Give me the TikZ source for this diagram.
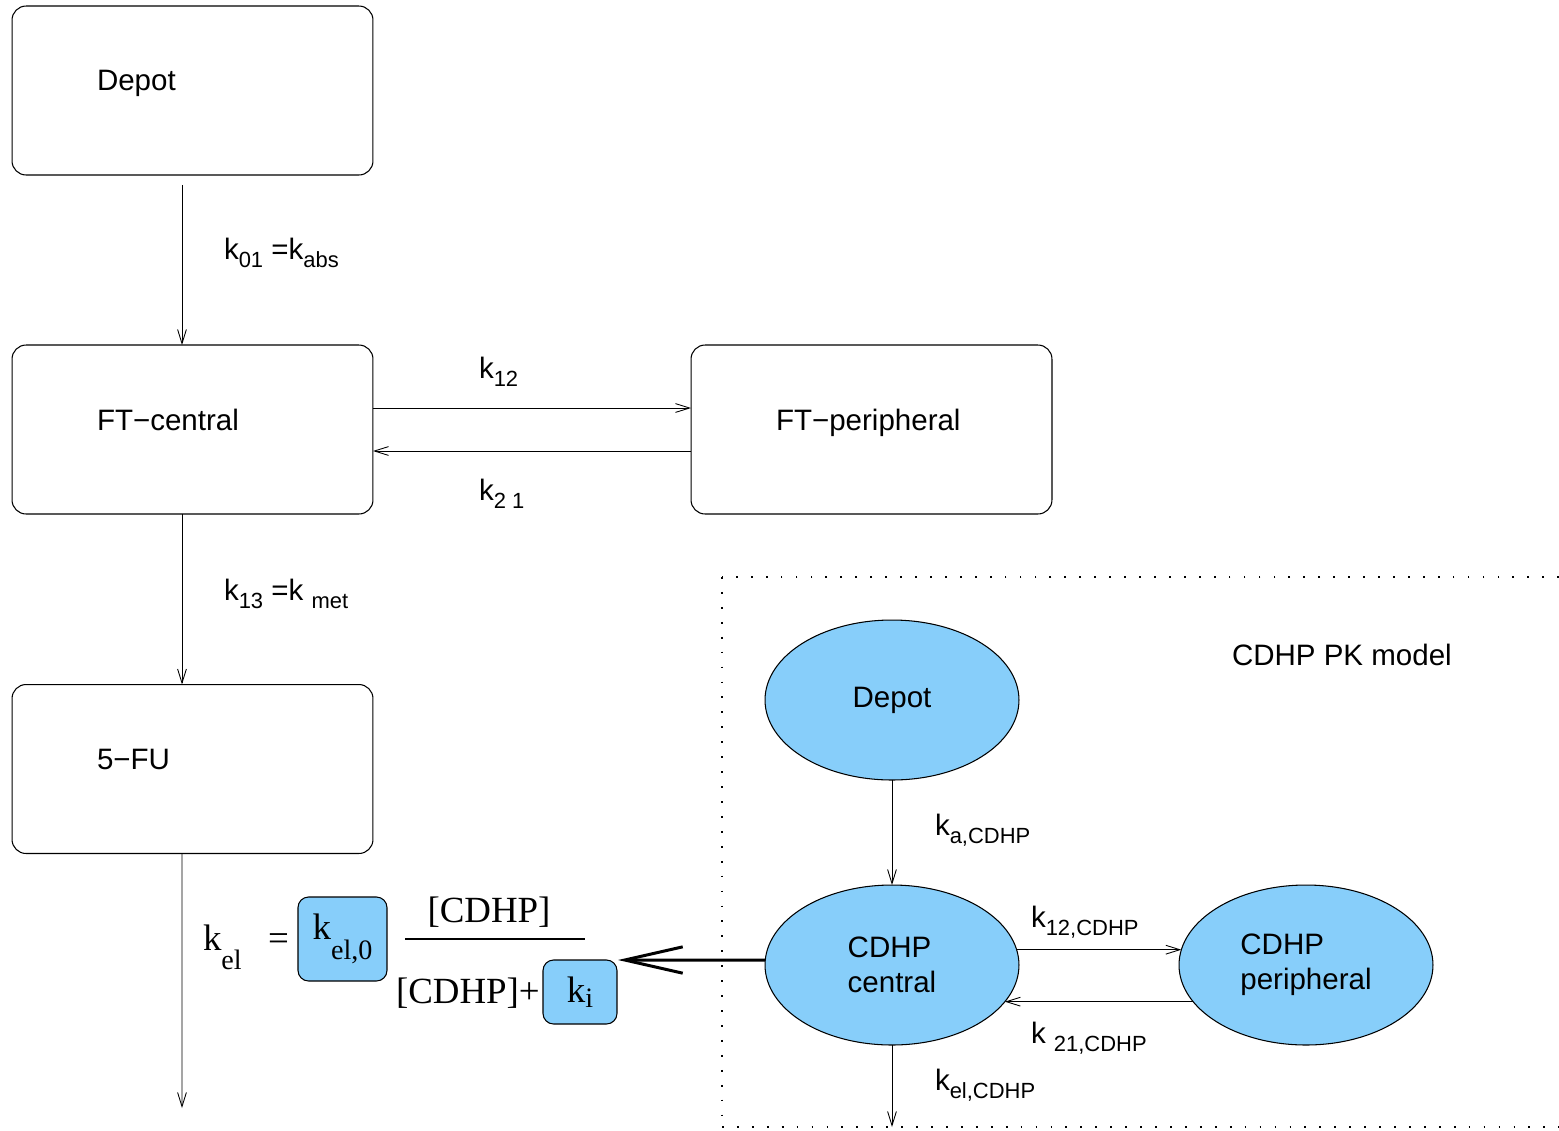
\documentclass[tikz,border=0pt]{standalone}
\usepackage{fontspec}
\setmainfont{Liberation Sans}
\newfontfamily\tms{Liberation Serif}
\usetikzlibrary{arrows.meta,shapes.geometric}
\definecolor{cdhpblue}{RGB}{135,206,250}
\newcommand{\lsub}[1]{\raisebox{-0.3em}{\fontsize{12.5}{12.5}\selectfont #1}}
\newcommand{\tsub}[1]{\raisebox{-0.53em}{\fontsize{16}{16}\selectfont #1}}

\begin{document}
\begin{tikzpicture}[x=0.02cm, y=-0.02cm]
\tikzset{ >={Straight Barb[length=8pt,width=5pt]}, inner sep=0pt, outer sep=0pt,
  comp/.style={draw, rounded corners=8pt, line width=0.6pt, minimum width=7.22cm, minimum height=3.38cm},
  cdhp/.style={draw, ellipse, fill=cdhpblue, line width=0.6pt, minimum width=5.08cm, minimum height=3.2cm,
    align=left, font=\fontsize{16.8}{20}\selectfont},
  parbox/.style={draw, fill=cdhpblue, rounded corners=6pt, line width=0.6pt, font=\tms\fontsize{21}{25}\selectfont},
  txt/.style={anchor=base west, font=\fontsize{16.8}{20}\selectfont},
  frm/.style={font=\tms\fontsize{21}{25}\selectfont},
  flow/.style={->, line width=0.5pt},
  frame/.style={line width=1pt, dash pattern=on 1pt off 7.5pt},
}

\useasboundingbox (0,0) rectangle (1559,1130);

%\draw [lightgray, dashed](0,0) grid[step=100] (1559,1130);

% FT / 5-FU compartments
\node [comp] (depot) at (192.5,90.5) {};
\node [comp] (ftc)   at (192.5,429.5) {};
\node [comp] (ftp)   at (871.5,429.5) {};
\node [comp] (fu)    at (192.5,769) {};

\node [txt] (depotlbl) at (97,90)  {Depot};
\node [txt] (ftclbl)   at (97,430) {FT−central};
\node [txt] (ftplbl)   at (776,430) {FT−peripheral};
\node [txt] (fulbl)    at (97,769) {5−FU};

\coordinate (fuout) at (182,1108);

\draw [flow] ([xshift=-0.21cm,yshift=-0.2cm]depot.south) -- ([xshift=-0.21cm]ftc.north);
\draw [flow] ([yshift=0.43cm]ftc.east) -- ([yshift=0.43cm]ftp.west);
\draw [flow] ([yshift=-0.43cm]ftp.west) -- ([yshift=-0.43cm]ftc.east);
\draw [flow] ([xshift=-0.21cm]ftc.south) -- ([xshift=-0.21cm]fu.north);
\draw [flow] ([xshift=-0.21cm]fu.south) -- (fuout);

\node [txt] (kabs) at (224,259) {k\lsub{01} =k\lsub{abs}};
\node [txt] (kft12) at (479,378) {k\lsub{12}};
\node [txt] (kft21) at (479,500) {k\lsub{2 1}};
\node [txt] (kmet) at (224,600) {k\lsub{13} =k \lsub{met}};

% CDHP PK model
\coordinate (frmtl) at (722,577);
\coordinate (frmtr) at (1559,577);
\coordinate (frmbl) at (722,1127);
\coordinate (frmbr) at (1559,1127);
\draw [frame] (frmtr) -- (frmtl);
\draw [frame] (frmtl) -- (frmbl);
\draw [frame] (frmbl) -- (frmbr);

\node [txt] (pklbl) at (1232,665) {CDHP PK model};

\node [cdhp] (cdep) at (892,700) {Depot};
\node [cdhp] (ccen) at (892,965) {CDHP\\central};
\node [cdhp] (cper) at (1306,965) {CDHP\\peripheral};

\coordinate (cout) at (892,1127);

\draw [flow] (cdep.south) -- (ccen.north);
\draw [flow] (ccen.7) -- (cper.173);
\draw [flow] (cper.198) -- (ccen.-18);
\draw [flow] (ccen.south) -- (cout);

\node [txt] (kacdhp) at (935,835) {k\lsub{a,CDHP}};
\node [txt] (k12cdhp) at (1031,927) {k\lsub{12,CDHP}};
\node [txt] (k21cdhp) at (1031,1043) {k \lsub{21,CDHP}};
\node [txt] (kelcdhp) at (935,1090) {k\lsub{el,CDHP}};

% elimination rate of 5-FU
\node [frm, anchor=base west] (kel) at (203,950) {k\tsub{el}};
\node [frm, anchor=base west] (eq) at (268,950) {=};
\node [parbox, minimum width=1.78cm, minimum height=1.68cm] (kel0) at (342.5,939) {k\tsub{el,0}};
\node [frm, anchor=base] (num) at (489,922) {[CDHP]};
\node [frm, anchor=base west] (den) at (396,1003) {[CDHP]+};
\node [parbox, minimum width=1.48cm, minimum height=1.28cm] (ki) at (580,992) {k\raisebox{-0.15em}{\fontsize{16}{16}\selectfont i}};

\coordinate (fracl) at (405,939);
\coordinate (fracr) at (585,939);
\draw [line width=0.6pt] (fracl) -- (fracr);

\coordinate (kitip) at (618,960);
\draw [line width=1.7pt, -{Straight Barb[length=33pt,width=15pt]}] ([yshift=0.1cm]ccen.west) -- (kitip);

\end{tikzpicture}
\end{document}
